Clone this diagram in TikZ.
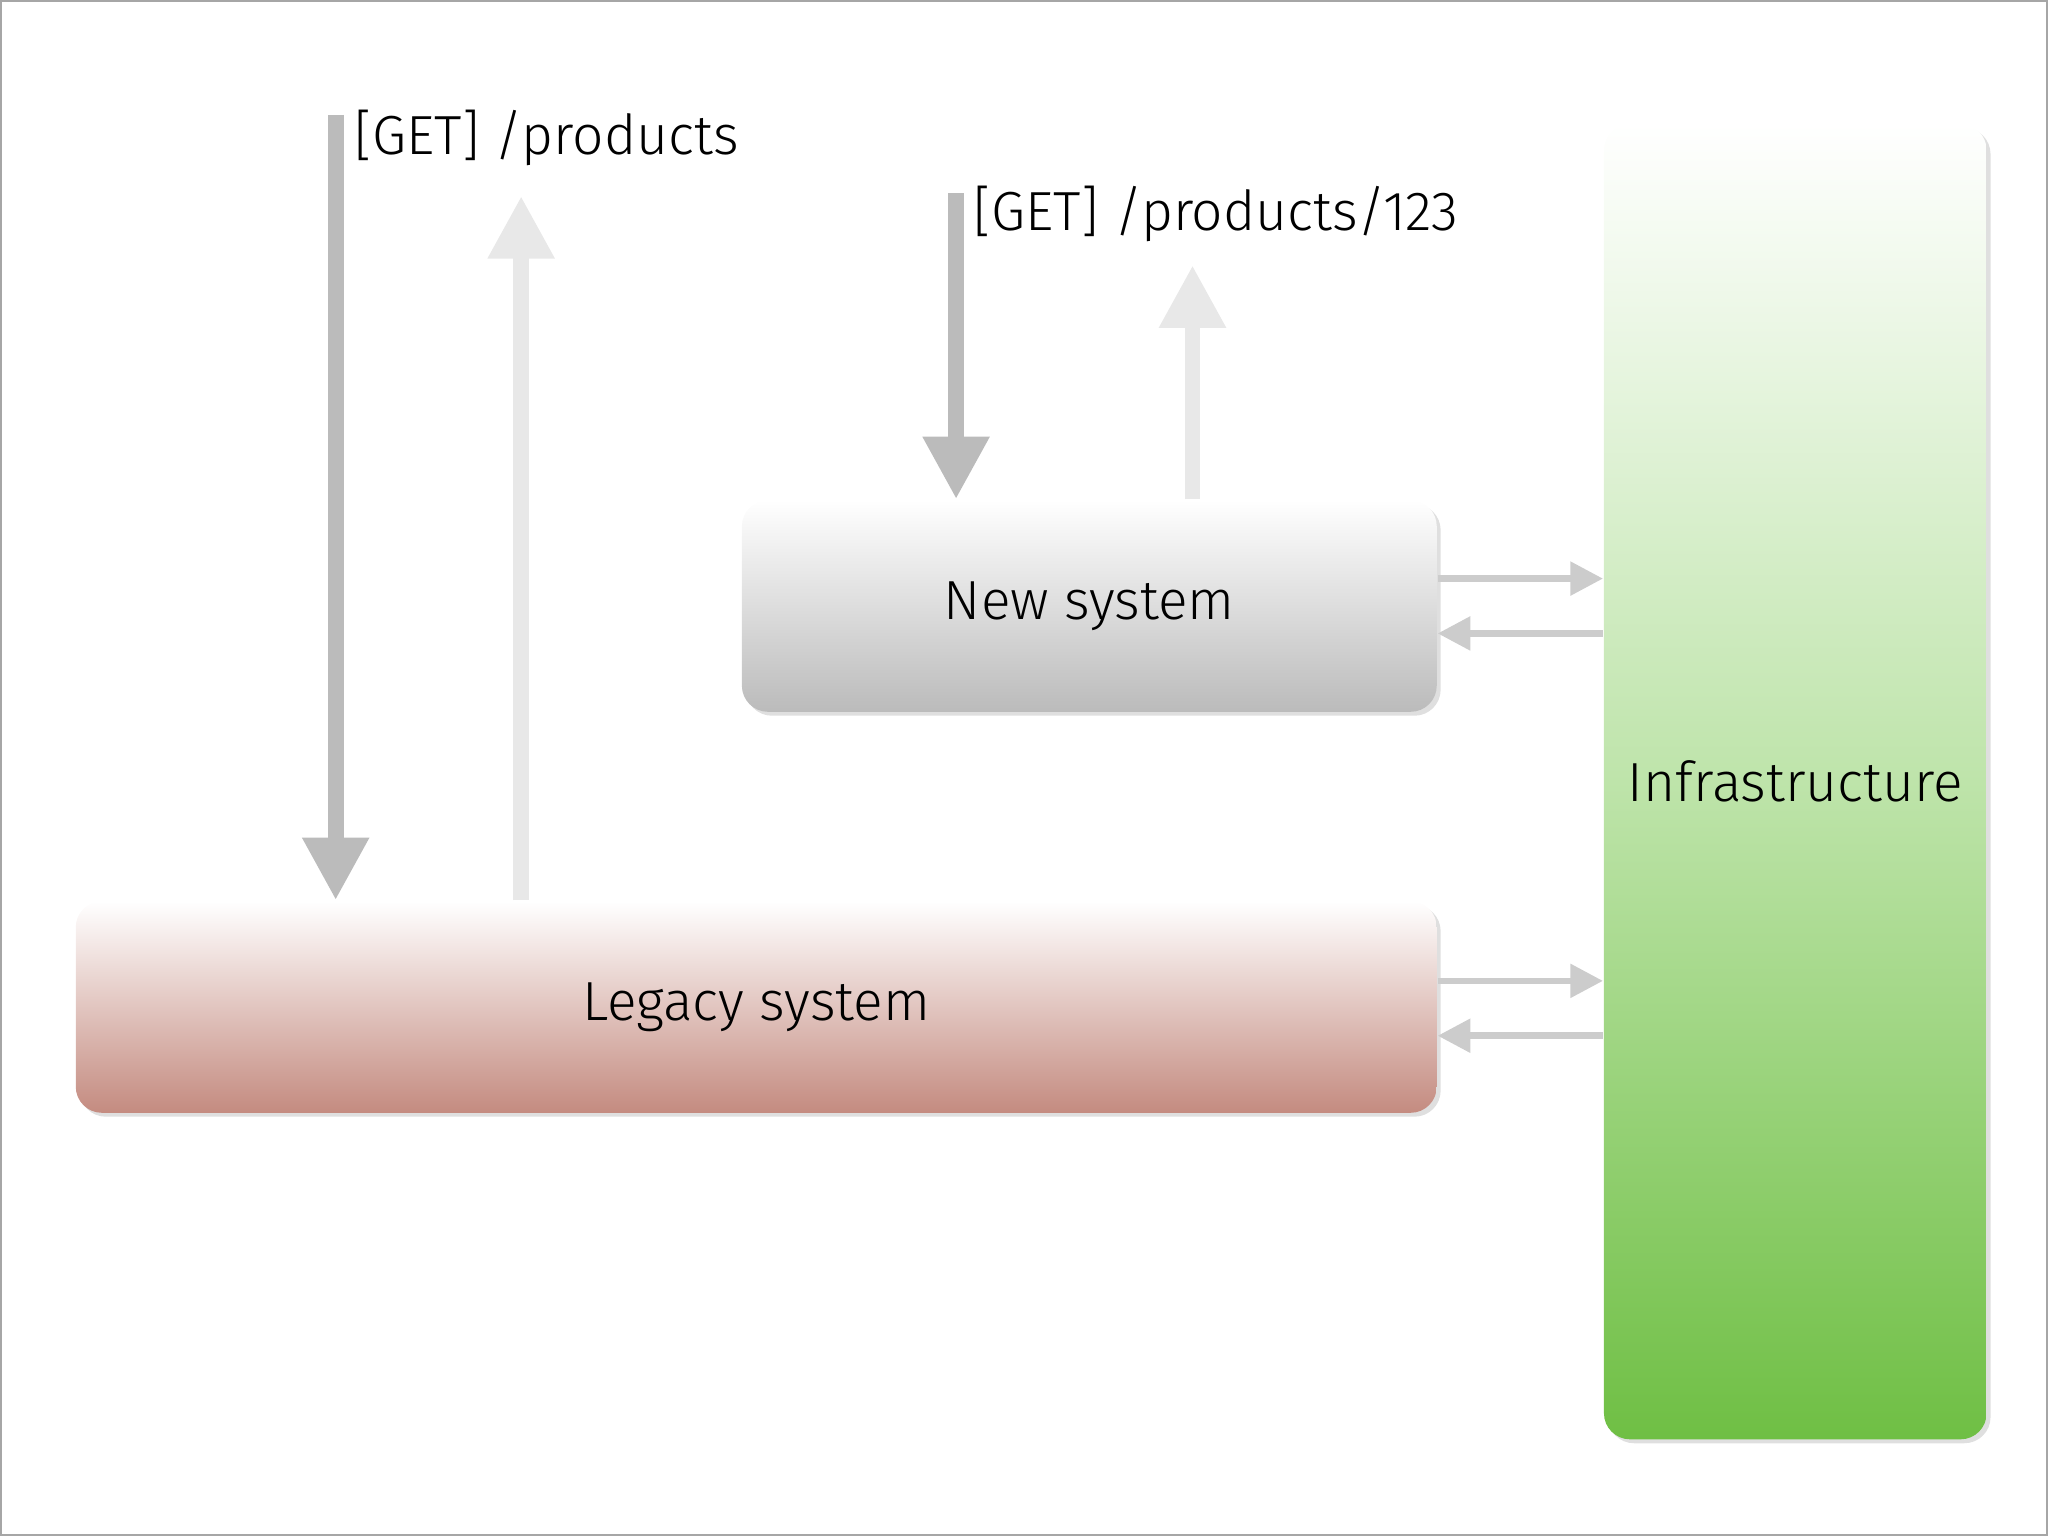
\documentclass[tikz,border=0pt]{standalone}
\usepackage{fontspec}
\setmainfont{Fira Sans}[UprightFont=* Light]
\usetikzlibrary{arrows.meta,shadows}
\definecolor{gdark}{HTML}{BBBBBB}
\definecolor{glight}{HTML}{E8E8E8}
\definecolor{hline}{HTML}{CCCCCC}
\begin{document}
\begin{tikzpicture}[
  box/.style={rectangle,rounded corners=0.2cm,draw=none,drop shadow={opacity=0.25,shadow xshift=0.03cm,shadow yshift=-0.03cm},font=\fontsize{12pt}{14pt}\selectfont},
  lbl/.style={anchor=west,font=\fontsize{12pt}{14pt}\selectfont,inner sep=0pt},
  varr/.style={line width=0.12cm,-{Triangle[width=0.48cm,length=0.48cm]}},
  harr/.style={line width=0.05cm,draw=hline,-{Triangle[width=0.25cm,length=0.25cm]}}
]
\useasboundingbox (0,0) rectangle (15.68,11.76);
\draw[gray!70,line width=0.5pt] (0.01,0.01) rectangle (15.67,11.75);
\node[box,minimum width=2.93cm,minimum height=10.07cm,top color=white,bottom color={rgb,255:red,111;green,191;blue,68},middle color={rgb,255:red,190;green,228;blue,170}] (infra) at (13.745,5.775) {Infrastructure};
\node[box,minimum width=5.32cm,minimum height=1.62cm,top color=white,bottom color=gdark] (new) at (8.34,7.12) {New system};
\node[box,minimum width=10.42cm,minimum height=1.62cm,top color=white,bottom color={rgb,255:red,196;green,139;blue,128}] (legacy) at (5.79,4.05) {Legacy system};
\coordinate (a1) at (2.57,10.88);
\coordinate (a2) at (3.99,10.26);
\coordinate (a3) at (7.32,10.28);
\coordinate (a4) at (9.13,9.73);
\draw[varr,draw=gdark] (a1) -- (a1 |- legacy.north);
\draw[varr,draw=glight] (a2 |- legacy.north) -- (a2);
\draw[varr,draw=gdark] (a3) -- (a3 |- new.north);
\draw[varr,draw=glight] (a4 |- new.north) -- (a4);
\node[lbl] (l1) at (2.71,10.70) {[GET] /products};
\node[lbl] (l2) at (7.45,10.12) {[GET] /products/123};
\draw[harr] ([yshift=0.21cm]new.east) -- ([yshift=0.21cm]new.east -| infra.west);
\draw[harr] ([yshift=-0.21cm]new.east -| infra.west) -- ([yshift=-0.21cm]new.east);
\draw[harr] ([yshift=0.20cm]legacy.east) -- ([yshift=0.20cm]legacy.east -| infra.west);
\draw[harr] ([yshift=-0.22cm]legacy.east -| infra.west) -- ([yshift=-0.22cm]legacy.east);
\end{tikzpicture}
\end{document}
